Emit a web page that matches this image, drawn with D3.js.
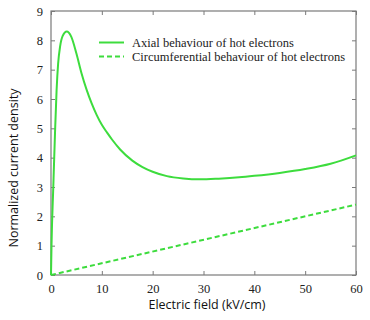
<!DOCTYPE html>
<html>
<head>
<meta charset="utf-8">
<script src="https://cdn.jsdelivr.net/npm/d3@7"></script>
<style>
  html, body { margin: 0; padding: 0; background: #fff; }
  svg { display: block; }
</style>
</head>
<body>
<svg id="chart" width="370" height="320"></svg>
<script>
// ---- data ----
const axialField = [0, 0.1, 0.45, 0.8, 1.1, 1.4, 1.8, 2.3, 3.1, 4, 5, 6, 7, 8, 9, 10, 11, 12, 13.6, 16, 18, 20, 22.8, 26, 29.3, 33, 37, 40, 45, 50, 55, 60];
const axialDensity = [0, 1.0, 3.0, 4.9, 6.3, 7.2, 7.8, 8.15, 8.3, 8.12, 7.55, 6.88, 6.32, 5.85, 5.45, 5.12, 4.86, 4.62, 4.28, 3.9, 3.68, 3.52, 3.37, 3.29, 3.26, 3.285, 3.33, 3.38, 3.48, 3.61, 3.79, 4.08];
const circField = [0, 60];
const circDensity = [0, 2.4];
const xTicks = [0, 10, 20, 30, 40, 50, 60];
const yTicks = [0, 1, 2, 3, 4, 5, 6, 7, 8, 9];
const seriesNames = ["Axial behaviour of hot electrons", "Circumferential behaviour of hot electrons"];
const xTitle = "Electric field (kV/cm)";
const yTitle = "Normalized current density";

// ---- layout ----
const svg = d3.select("#chart");
const L = 51, R = 356, T = 11, B = 275;
const green = "#3ddc3d";
const axisCol = "#7a7a7a";

const x = d3.scaleLinear().domain([0, 60]).range([L, R]);
const y = d3.scaleLinear().domain([0, 9]).range([B, T]);

// frame
svg.append("rect").attr("x", L).attr("y", T).attr("width", R - L).attr("height", B - T)
  .attr("fill", "none").attr("stroke", axisCol).attr("stroke-width", 1.2);

// axes (inward ticks)
const tickFont = "'Liberation Serif', 'Times New Roman', serif";
function styleAxis(g) {
  g.select(".domain").remove();
  g.selectAll(".tick line").attr("stroke", axisCol);
  g.selectAll(".tick text").attr("font-family", tickFont).attr("font-size", 12.5).attr("fill", "#222");
}
svg.append("g").attr("transform", `translate(0,${B})`)
  .call(d3.axisBottom(x).tickValues(xTicks).tickSizeInner(-4).tickPadding(9).tickFormat(d3.format("d")))
  .call(styleAxis);
svg.append("g").attr("transform", `translate(0,${T})`)
  .call(d3.axisTop(x).tickValues(xTicks).tickSizeInner(-4).tickFormat(""))
  .call(styleAxis);
svg.append("g").attr("transform", `translate(${L},0)`)
  .call(d3.axisLeft(y).tickValues(yTicks).tickSizeInner(-4).tickPadding(8).tickFormat(d3.format("d")))
  .call(styleAxis);
svg.append("g").attr("transform", `translate(${R},0)`)
  .call(d3.axisRight(y).tickValues(yTicks).tickSizeInner(-4).tickFormat(""))
  .call(styleAxis);

// lines
const axial = axialField.map((f, i) => [f, axialDensity[i]]);
const circ = circField.map((f, i) => [f, circDensity[i]]);
const line = d3.line().x(d => x(d[0])).y(d => y(d[1])).curve(d3.curveMonotoneX);
svg.append("path").datum(axial).attr("d", line)
  .attr("fill", "none").attr("stroke", green).attr("stroke-width", 2);
svg.append("path").datum(circ).attr("d", line)
  .attr("fill", "none").attr("stroke", green).attr("stroke-width", 2).attr("stroke-dasharray", "5,3");

// legend
const legend = svg.append("g");
const ly = [42.5, 56.5];
seriesNames.forEach((name, i) => {
  legend.append("line").attr("x1", 99).attr("x2", 124).attr("y1", ly[i]).attr("y2", ly[i])
    .attr("stroke", green).attr("stroke-width", 2)
    .attr("stroke-dasharray", i === 1 ? "5,3" : null);
  legend.append("text").attr("x", 132).attr("y", ly[i] + 4.5)
    .attr("font-family", tickFont).attr("font-size", 12.5).attr("fill", "#222")
    .text(name);
});

// titles
const titleFont = "'Open Sans', 'DejaVu Sans', sans-serif";
svg.append("text").attr("x", 207).attr("y", 309).attr("text-anchor", "middle")
  .attr("font-family", titleFont).attr("font-size", 12.5).attr("fill", "#111").text(xTitle);
svg.append("text").attr("transform", "translate(18,168) rotate(-90)").attr("text-anchor", "middle")
  .attr("font-family", titleFont).attr("font-size", 12.5).attr("fill", "#111").text(yTitle);
</script>
</body>
</html>
